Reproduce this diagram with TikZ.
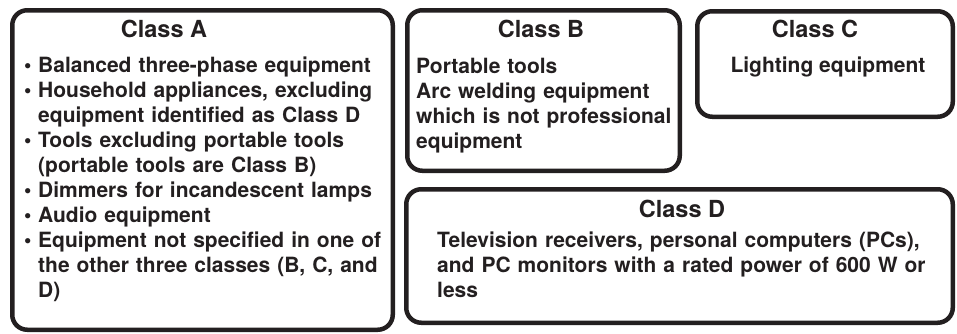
\documentclass[tikz,border=0pt]{standalone}
\usepackage{fontspec}
\setmainfont{TeX Gyre Heros}
\definecolor{ink}{HTML}{231F20}
\newcommand\itemline[1]{\hangindent=14pt\hangafter=1\noindent\makebox[14pt][l]{•}#1\par}
\begin{document}
\begin{tikzpicture}[x=1pt,y=-1pt,
  box/.style={draw=ink,line width=4.5pt,rounded corners=15pt},
  title/.style={anchor=base,inner sep=0pt,font=\fontsize{23.5}{28}\selectfont\bfseries,text=ink},
  body/.style={anchor=base west,inner sep=0pt,font=\fontsize{21}{25}\selectfont\bfseries,text=ink,align=left}]
\useasboundingbox (0,0) rectangle (957,333);
% boxes
\draw[box] (12.25,10.25) rectangle (392.75,329.75);
\draw[box] (407.25,10.25) rectangle (679.75,170.75);
\draw[box] (697.25,11.25) rectangle (952.75,116.75);
\draw[box] (406.25,189.25) rectangle (952.75,322.75);
% Class A
\node[title] (ta) at (164,37) {Class A};
\node[body,text width=365pt] (ba) at (24,72) {\itemline{Balanced three-phase equipment}
\itemline{Household appliances, excluding\newline equipment identified as Class D}
\itemline{Tools excluding portable tools\newline (portable tools are Class B)}
\itemline{Dimmers for incandescent lamps}
\itemline{Audio equipment}
\itemline{Equipment not specified in one of\newline the other three classes (B, C, and\newline D)}};
% Class B
\node[title] (tb) at (541,37) {Class B};
\node[body,text width=262pt] (bb) at (416,73) {Portable tools\\Arc welding equipment\\which is not professional\\equipment};
% Class C
\node[title] (tc) at (815,37) {Class C};
\node[anchor=base,inner sep=0pt,font=\fontsize{21}{25}\selectfont\bfseries,text=ink] (bc) at (828,72) {Lighting equipment};
% Class D
\node[title] (td) at (682,217) {Class D};
\node[body,text width=510pt] (bd) at (437,247) {Television receivers, personal computers (PCs),\\and PC monitors with a rated power of 600 W or\\less};
\end{tikzpicture}
\end{document}
